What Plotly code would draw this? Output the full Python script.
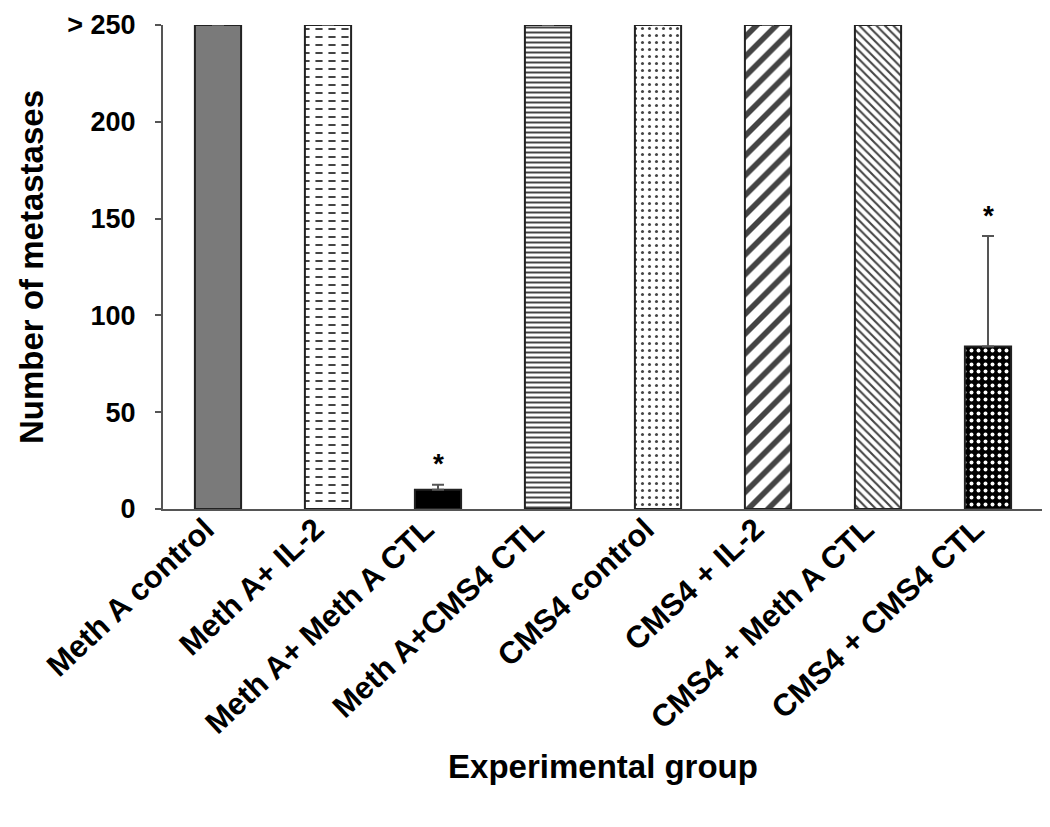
import plotly.graph_objects as go

categories = ["Meth A control", "Meth A+ IL-2", "Meth A+ Meth A CTL", "Meth A+CMS4 CTL",
              "CMS4 control", "CMS4 + IL-2", "CMS4 + Meth A CTL", "CMS4 + CMS4 CTL"]
values = [250, 250, 10, 250, 250, 250, 250, 84]
err_plus = [0, 2.5, 2.5, 0, 0, 0, 0, 57]
significant = [False, False, True, False, False, False, False, True]
y_ticks = [0, 50, 100, 150, 200, 250]
y_tick_labels = ["0", "50", "100", "150", "200", "> 250"]

bg_colors = ["#7a7a7a", "white", "black", "white", "white", "white", "white", "black"]
fg_colors = ["#7a7a7a", "#888888", "black", "#666666", "#999999", "black", "#555555", "#dddddd"]
shapes = ["", "-", "", "-", ".", "/", "\\", "."]
sizes = [8, 8, 8, 5, 7, 14, 6, 7]
solidity = [0.3, 0.25, 0.3, 0.4, 0.15, 0.4, 0.35, 0.25]
# vertical white stripes that cut the horizontal lines of bar 2 into dashes
cut_shapes = ["", "|", "", "", "", "", "", ""]

FONT = "Liberation Sans, Arial, sans-serif"
CLEAR = "rgba(0,0,0,0)"
NBSP = "\u00a0"

fig = go.Figure()
# fills and patterns
fig.add_trace(go.Bar(
    x=categories, y=values,
    marker=dict(
        color=bg_colors, line=dict(width=0),
        pattern=dict(shape=shapes, fgcolor=fg_colors, bgcolor=bg_colors, fgopacity=1,
                     size=sizes, solidity=solidity, fillmode="overlay"),
    ),
    showlegend=False, hoverinfo="skip",
))
# dash cutter
fig.add_trace(go.Bar(
    x=categories, y=values,
    marker=dict(
        color=CLEAR, line=dict(width=0),
        pattern=dict(shape=cut_shapes, fgcolor="white", bgcolor=CLEAR, fgopacity=1,
                     size=13, solidity=0.45, fillmode="replace"),
    ),
    showlegend=False, hoverinfo="skip",
))
# outlines and error bars
fig.add_trace(go.Bar(
    x=categories, y=values,
    marker=dict(color=CLEAR, line=dict(color="#222222", width=2)),
    error_y=dict(type="data", array=err_plus, arrayminus=[0] * len(values),
                 symmetric=False, color="#555555", thickness=2, width=6),
    showlegend=False,
))

for c, v, e, s in zip(categories, values, err_plus, significant):
    if s:
        fig.add_annotation(x=c, y=v + e, text="<b>*</b>", showarrow=False,
                           yshift=21, font=dict(family=FONT, size=28, color="black"))

# page body has an 8px margin, so the figure is offset by 8px right and down
fig.update_layout(
    width=1042, height=819,
    margin=dict(l=155, r=7, t=17, b=318),
    plot_bgcolor="white", paper_bgcolor="white",
    barmode="overlay",
    bargap=0.58,
    font=dict(family=FONT, color="black"),
    xaxis=dict(
        tickangle=-43, showline=True, linecolor="#555555", linewidth=2,
        tickvals=categories, ticktext=[c + NBSP * 2 for c in categories],
        ticks="", tickfont=dict(family=FONT, size=31, weight="bold"),
        ticklabelstandoff=-24,
        title=dict(text="<b>Experimental group</b>", font=dict(family=FONT, size=33), standoff=15),
        showgrid=False, automargin=False,
    ),
    yaxis=dict(
        range=[0, 250], tickvals=y_ticks, ticktext=y_tick_labels,
        showline=True, linecolor="#555555", linewidth=2,
        ticks="outside", ticklen=6, tickcolor="#555555", tickwidth=2,
        tickfont=dict(family=FONT, size=27, weight="bold"),
        ticklabelstandoff=14,
        title=dict(text="<b>Number of metastases</b>", font=dict(family=FONT, size=33), standoff=14),
        showgrid=False, zeroline=False, automargin=False,
    ),
)

fig.write_html("out.html")
